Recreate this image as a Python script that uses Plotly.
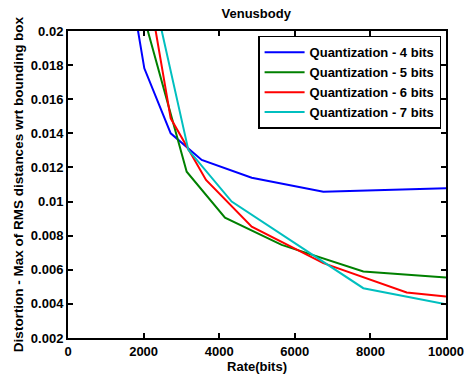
import plotly.graph_objects as go

# Data
rate_4 = [1800, 2019, 2717, 3537, 4860, 6755, 10000]
dist_4 = [0.0207, 0.01781, 0.0140, 0.01244, 0.0114, 0.01058, 0.01078]

rate_5 = [2000, 3140, 4153, 5653, 7813, 10000]
dist_5 = [0.0209, 0.01175, 0.00906, 0.00746, 0.0059, 0.00555]

rate_6 = [2250, 2717, 3651, 4860, 6755, 8960, 10000]
dist_6 = [0.0209, 0.01488, 0.01127, 0.00853, 0.00639, 0.00467, 0.00443]

rate_7 = [2400, 3183, 4330, 7813, 10000]
dist_7 = [0.0208, 0.01303, 0.0100, 0.00492, 0.00398]

series_names = ["Quantization - 4 bits", "Quantization - 5 bits",
                "Quantization - 6 bits", "Quantization - 7 bits"]
colors = ["#0000FF", "#008000", "#FF0000", "#00BFBF"]

x_ticks = [0, 2000, 4000, 6000, 8000, 10000]
x_ticktext = ["0", "2000", "4000", "6000", "8000", "10000"]
y_ticks = [0.002, 0.004, 0.006, 0.008, 0.01, 0.012, 0.014, 0.016, 0.018, 0.02]
y_ticktext = ["0.002", "0.004", "0.006", "0.008", "0.01", "0.012", "0.014",
              "0.016", "0.018", "0.02"]

font_family = "Liberation Sans, Arial, sans-serif"

fig = go.Figure()
for xs, ys, name, c in zip([rate_4, rate_5, rate_6, rate_7],
                           [dist_4, dist_5, dist_6, dist_7],
                           series_names, colors):
    fig.add_trace(go.Scatter(x=xs, y=ys, mode="lines", name=name,
                             line=dict(color=c, width=2)))

axis_common = dict(showline=True, linecolor="black", linewidth=2, mirror="ticks",
                   ticks="inside", ticklen=5, tickwidth=1.5, tickcolor="black",
                   showgrid=False, zeroline=False, automargin=False,
                   tickfont=dict(family=font_family, size=13, color="black", weight="bold"))

fig.update_layout(
    width=465, height=376,
    margin=dict(l=68, r=19, t=31, b=38),
    paper_bgcolor="white", plot_bgcolor="white",
    title=dict(text="Venusbody", x=0.551, xanchor="center", y=0.964, yanchor="middle",
               font=dict(family=font_family, size=13, color="black", weight="bold")),
    xaxis=dict(range=[0, 10000], tickvals=x_ticks, ticktext=x_ticktext,
               title=dict(text="Rate(bits)", standoff=0,
                          font=dict(family=font_family, size=13, color="black", weight="bold")),
               **axis_common),
    yaxis=dict(range=[0.002, 0.02], tickvals=y_ticks, ticktext=y_ticktext,
               title=dict(text="Distortion - Max of RMS distances wrt bounding box", standoff=4,
                          font=dict(family=font_family, size=13.5, color="black", weight="bold")),
               **axis_common),
    legend=dict(x=0.987, xanchor="right", y=0.984, yanchor="top",
                bgcolor="white", bordercolor="black", borderwidth=1.5,
                font=dict(family=font_family, size=13, color="black", weight="bold"),
                tracegroupgap=0, itemwidth=40),
    showlegend=True,
)

# Remove the default page margin so the figure sits at the window's top-left corner.
fig.write_html("out.html", config={"displayModeBar": False},
               post_script="document.body.style.margin='0';")
